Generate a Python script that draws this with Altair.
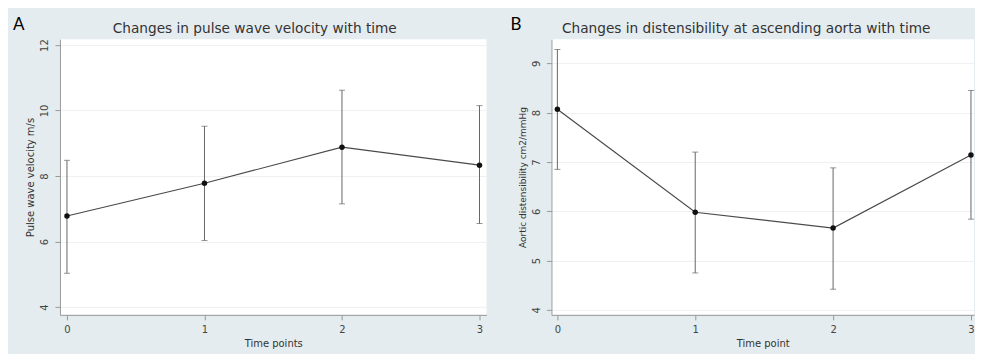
import altair as alt
import pandas as pd

# ---- data ----
time_points = [0, 1, 2, 3]

pwv_mean = [6.78, 7.78, 8.88, 8.33]
pwv_lo = [5.03, 6.03, 7.15, 6.55]
pwv_hi = [8.48, 9.52, 10.62, 10.15]

dist_mean = [8.07, 5.98, 5.66, 7.14]
dist_lo = [6.85, 4.75, 4.42, 5.84]
dist_hi = [9.28, 7.20, 6.88, 8.45]

pwv_yticks = [4, 6, 8, 10, 12]
dist_yticks = [4, 5, 6, 7, 8, 9]

FONT = "DejaVu Sans"
BG = "#e5ecef"


def panel(mean, lo, hi, letter, heading, ytitle, xtitle, ydom, yticks, xdom,
          width, height, letter_dx, ytitle_size):
    df = pd.DataFrame({"t": time_points, "mean": mean, "lo": lo, "hi": hi})
    xscale = alt.Scale(domain=xdom, nice=False, zero=False)
    yscale = alt.Scale(domain=ydom, nice=False, zero=False)
    xax = alt.Axis(values=time_points, format="d", title=xtitle, grid=False,
                   tickSize=5, labelPadding=5, titlePadding=4,
                   labelFontSize=10, titleFontSize=10, titleFontWeight="normal",
                   labelColor="#444", titleColor="#333", domainColor="#999",
                   tickColor="#999", labelFont=FONT, titleFont=FONT)
    yax = alt.Axis(values=yticks, format="d", title=ytitle, grid=True,
                   gridColor="#edf1f3", tickSize=5, labelPadding=5,
                   titlePadding=4, labelAngle=270, labelAlign="center",
                   labelBaseline="bottom", labelFontSize=10,
                   titleFontSize=ytitle_size,
                   titleFontWeight="normal", labelColor="#444",
                   titleColor="#333", domainColor="#999", tickColor="#999",
                   labelFont=FONT, titleFont=FONT)

    base = alt.Chart(df)
    bars = base.mark_rule(color="#666", strokeWidth=1).encode(
        x=alt.X("t:Q", scale=xscale, axis=xax),
        y=alt.Y("lo:Q", scale=yscale, axis=yax),
        y2="hi:Q",
    )
    cap_lo = base.mark_tick(color="#666", orient="horizontal", size=6,
                            thickness=1).encode(
        x=alt.X("t:Q", scale=xscale), y=alt.Y("lo:Q", scale=yscale))
    cap_hi = base.mark_tick(color="#666", orient="horizontal", size=6,
                            thickness=1).encode(
        x=alt.X("t:Q", scale=xscale), y=alt.Y("hi:Q", scale=yscale))
    line = base.mark_line(color="#4a4a4a", strokeWidth=1.2).encode(
        x=alt.X("t:Q", scale=xscale), y=alt.Y("mean:Q", scale=yscale))
    pts = base.mark_circle(color="#111", size=30, opacity=1).encode(
        x=alt.X("t:Q", scale=xscale), y=alt.Y("mean:Q", scale=yscale))

    lab = pd.DataFrame({"letter": [letter], "heading": [heading]})
    letter_txt = alt.Chart(lab).mark_text(
        font="Lato", fontSize=17, align="left", baseline="alphabetic",
        color="#000").encode(
        x=alt.value(letter_dx), y=alt.value(-9), text="letter:N")
    head_txt = alt.Chart(lab).mark_text(
        font=FONT, fontSize=13.7, align="center", baseline="alphabetic",
        color="#333").encode(
        x=alt.value(195), y=alt.value(-6), text="heading:N")

    return alt.layer(bars, cap_lo, cap_hi, line, pts, letter_txt, head_txt).properties(
        width=width, height=height)


a = panel(pwv_mean, pwv_lo, pwv_hi, "A", "Changes in pulse wave velocity with time",
          "Pulse wave velocity m/s", "Time points", [3.76, 12.18], pwv_yticks,
          [-0.051, 3.051], 427, 276, -47, 10)
b = panel(dist_mean, dist_lo, dist_hi, "B",
          "Changes in distensibility at ascending aorta with time",
          "Aortic distensibility cm2/mmHg", "Time point", [3.9, 9.49], dist_yticks,
          [-0.043, 3.022], 423, 276, -41, 9)

chart = alt.hconcat(a, b, spacing=24).properties(
    background=BG,
    padding={"left": 5, "top": 8, "right": 0, "bottom": 5},
).configure_view(fill="white", stroke=None)

chart.save("out.html", embed_options={"renderer": "svg", "actions": False})
